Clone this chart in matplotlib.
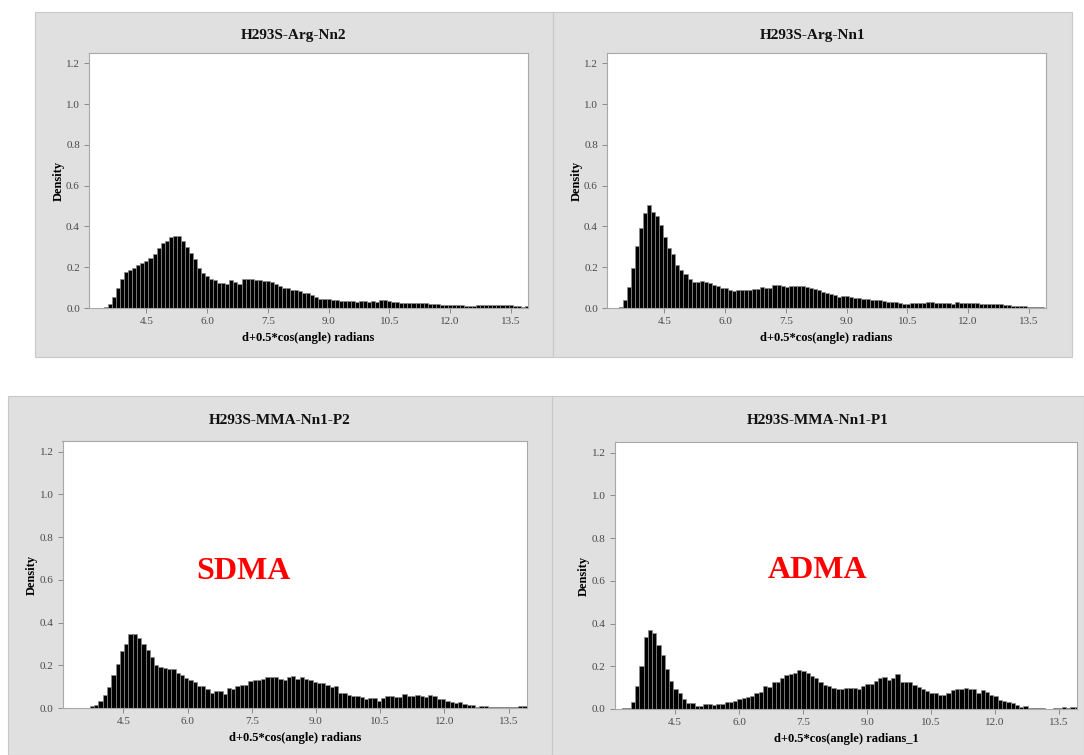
import numpy as np
import matplotlib
matplotlib.use('Agg')
import matplotlib.pyplot as plt
from matplotlib.patches import Rectangle

# histogram densities (bin width 0.1)
bin_width = 0.1
x_ticks = [4.5, 6.0, 7.5, 9.0, 10.5, 12.0, 13.5]
y_ticks = [0.0, 0.2, 0.4, 0.6, 0.8, 1.0, 1.2]

titles = ['H293S-Arg-Nn2', 'H293S-Arg-Nn1', 'H293S-MMA-Nn1-P2', 'H293S-MMA-Nn1-P1']
x_labels = ['d+0.5*cos(angle) radians', 'd+0.5*cos(angle) radians',
            'd+0.5*cos(angle) radians', 'd+0.5*cos(angle) radians_1']
notes = ['', '', 'SDMA', 'ADMA']

nn2_start = 3.45
nn2_density = [
    0.003, 0.018, 0.054, 0.098, 0.144, 0.177, 0.185, 0.198, 0.21, 0.221,
    0.231, 0.243, 0.267, 0.292, 0.32, 0.328, 0.349, 0.352, 0.352, 0.328,
    0.30, 0.27, 0.238, 0.198, 0.174, 0.157, 0.144, 0.139, 0.123, 0.123,
    0.12, 0.136, 0.128, 0.12, 0.144, 0.144, 0.144, 0.136, 0.136, 0.133,
    0.131, 0.128, 0.12, 0.108, 0.10, 0.098, 0.09, 0.087, 0.082, 0.075,
    0.074, 0.066, 0.054, 0.046, 0.046, 0.046, 0.041, 0.038, 0.034, 0.034,
    0.034, 0.034, 0.03, 0.034, 0.034, 0.03, 0.034, 0.03, 0.041, 0.041,
    0.034, 0.03, 0.03, 0.026, 0.026, 0.026, 0.026, 0.023, 0.023, 0.023,
    0.02, 0.02, 0.02, 0.013, 0.013, 0.013, 0.013, 0.013, 0.013, 0.008,
    0.008, 0.008, 0.015, 0.015, 0.015, 0.015, 0.015, 0.015, 0.015, 0.015,
    0.015, 0.01, 0.01, 0.005, 0.011,
]

nn1_start = 3.37
nn1_density = [
    0.003, 0.038, 0.103, 0.198, 0.303, 0.392, 0.464, 0.505, 0.472, 0.451,
    0.407, 0.346, 0.295, 0.267, 0.21, 0.185, 0.166, 0.144, 0.126, 0.126,
    0.131, 0.126, 0.123, 0.115, 0.107, 0.10, 0.10, 0.09, 0.084, 0.087,
    0.087, 0.087, 0.087, 0.095, 0.095, 0.103, 0.098, 0.098, 0.111, 0.111,
    0.107, 0.103, 0.107, 0.108, 0.107, 0.107, 0.103, 0.098, 0.095, 0.087,
    0.077, 0.074, 0.07, 0.066, 0.054, 0.057, 0.057, 0.054, 0.051, 0.049,
    0.046, 0.044, 0.041, 0.038, 0.038, 0.034, 0.031, 0.03, 0.03, 0.025,
    0.021, 0.021, 0.026, 0.026, 0.026, 0.026, 0.03, 0.03, 0.026, 0.026,
    0.026, 0.026, 0.021, 0.03, 0.026, 0.026, 0.026, 0.026, 0.026, 0.021,
    0.021, 0.021, 0.02, 0.02, 0.02, 0.016, 0.013, 0.008, 0.008, 0.008,
    0.008, 0.003, 0.003, 0.003, 0.003,
]

p2_start = 3.72
p2_density = [
    0.008, 0.016, 0.033, 0.063, 0.098, 0.156, 0.205, 0.267, 0.298, 0.345,
    0.348, 0.33, 0.30, 0.27, 0.239, 0.20, 0.192, 0.189, 0.181, 0.184,
    0.164, 0.153, 0.142, 0.13, 0.122, 0.103, 0.103, 0.088, 0.072, 0.08,
    0.08, 0.067, 0.095, 0.088, 0.103, 0.106, 0.106, 0.127, 0.13, 0.13,
    0.138, 0.145, 0.145, 0.145, 0.138, 0.13, 0.146, 0.149, 0.134, 0.146,
    0.134, 0.131, 0.12, 0.115, 0.115, 0.108, 0.10, 0.103, 0.072, 0.069,
    0.062, 0.057, 0.057, 0.051, 0.042, 0.046, 0.046, 0.035, 0.046, 0.054,
    0.057, 0.051, 0.051, 0.066, 0.057, 0.057, 0.063, 0.057, 0.051, 0.062,
    0.054, 0.043, 0.042, 0.035, 0.026, 0.023, 0.026, 0.018, 0.015, 0.012,
    0.003, 0.008, 0.008, 0.003, 0.003, 0.003, 0.003, 0.003, 0.003, 0.003,
    0.01, 0.01,
]

p1_start = 3.26
p1_density = [
    0.003, 0.003, 0.034, 0.109, 0.203, 0.339, 0.37, 0.355, 0.30, 0.253,
    0.186, 0.133, 0.092, 0.073, 0.045, 0.027, 0.03, 0.016, 0.016, 0.022,
    0.022, 0.019, 0.023, 0.023, 0.031, 0.031, 0.0375, 0.047, 0.05, 0.055,
    0.0625, 0.077, 0.081, 0.108, 0.105, 0.128, 0.128, 0.147, 0.159, 0.164,
    0.17, 0.183, 0.18, 0.17, 0.155, 0.144, 0.128, 0.113, 0.108, 0.097,
    0.095, 0.093, 0.099, 0.099, 0.099, 0.093, 0.109, 0.118, 0.118, 0.133,
    0.144, 0.149, 0.136, 0.144, 0.164, 0.126, 0.126, 0.126, 0.113, 0.102,
    0.095, 0.082, 0.074, 0.074, 0.065, 0.067, 0.074, 0.087, 0.095, 0.095,
    0.099, 0.093, 0.093, 0.074, 0.087, 0.078, 0.067, 0.059, 0.043, 0.039,
    0.033, 0.028, 0.017, 0.008, 0.012, 0.005, 0.006, 0.005, 0.005, 0.002,
    0.002, 0.005, 0.005, 0.008, 0.005, 0.01, 0.01,
]

W, H = 1084, 755


def fig_box(x0, y0, x1, y1):
    """Pixel box (left, top, right, bottom) -> figure fraction rect."""
    return [x0 / W, 1 - y1 / H, (x1 - x0) / W, (y1 - y0) / H]


# pixel layout: gray panel, white plot area, title y, note position (data)
layout = [
    dict(panel=(35, 12, 553, 357), plot=(89, 53, 528, 308), title_y=35, note=None),
    dict(panel=(553, 12, 1072, 357), plot=(607, 53, 1046, 308), title_y=35, note=None),
    dict(panel=(8, 396, 552, 755), plot=(62.5, 441, 527, 708), title_y=421, note=(7.3, 0.64)),
    dict(panel=(552, 396, 1084, 755), plot=(614.5, 442, 1077.5, 709), title_y=421, note=(7.84, 0.65)),
]

series = [(nn2_start, nn2_density), (nn1_start, nn1_density),
          (p2_start, p2_density), (p1_start, p1_density)]

plt.rcParams['font.family'] = ['Liberation Serif', 'DejaVu Serif']

fig = plt.figure(figsize=(W / 100, H / 100), dpi=100)
fig.patch.set_facecolor('white')

for i, spec in enumerate(layout):
    px0, py0, px1, py1 = spec['panel']
    fig.patches.append(Rectangle((px0 / W, 1 - py1 / H), (px1 - px0) / W, (py1 - py0) / H,
                                 transform=fig.transFigure, facecolor='#e0e0e0',
                                 edgecolor='#c8c8c8', linewidth=0.8, zorder=-5))
    fig.text((px0 + px1) / 2 / W, 1 - spec['title_y'] / H, titles[i],
             ha='center', va='center', fontsize=11, fontweight='bold', color='#111111')

    ax = fig.add_axes(fig_box(*spec['plot']))
    ax.set_zorder(2)
    ax.set_facecolor('white')

    start, dens = series[i]
    edges = start + bin_width * np.arange(len(dens))
    ax.bar(edges, dens, width=bin_width, align='edge', color='black',
           edgecolor='#8c8c8c', linewidth=0.5)

    ax.set_xlim(3.08, 13.93)
    ax.set_ylim(0, 1.25)
    ax.set_xticks(x_ticks)
    ax.set_xticklabels([f'{t:.1f}' for t in x_ticks])
    ax.set_yticks(y_ticks)
    ax.set_yticklabels([f'{t:.1f}' for t in y_ticks])
    ax.tick_params(direction='out', length=3.5, width=0.7, color='#8a8a8a',
                   labelsize=8, labelcolor='#4a4a4a', pad=3)
    for s in ax.spines.values():
        s.set_color('#a8a8a8')
        s.set_linewidth(0.8)

    ax.set_xlabel(x_labels[i], fontsize=9, fontweight='bold', labelpad=4)
    ax.set_ylabel('Density', fontsize=9, fontweight='bold', labelpad=1)

    if spec['note'] is not None:
        ax.text(spec['note'][0], spec['note'][1], notes[i], ha='center', va='center',
                fontsize=23, fontweight='bold', color='#ff0000')

fig.savefig('out.png', dpi=100)
